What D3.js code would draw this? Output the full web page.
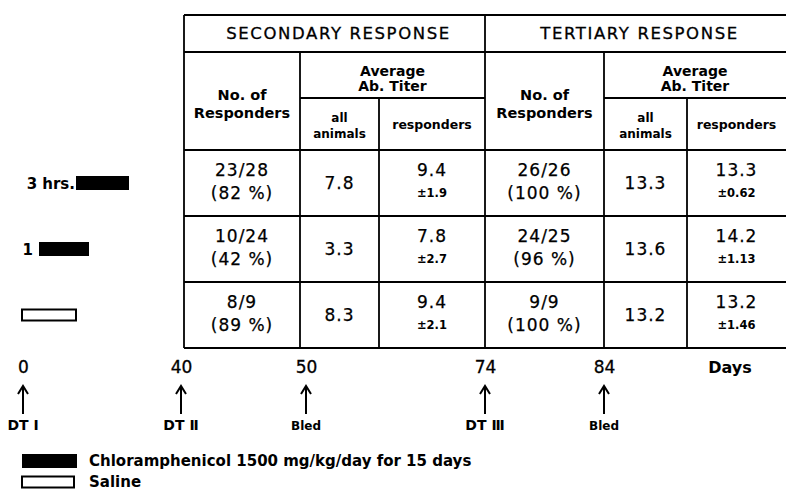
<!DOCTYPE html>
<html>
<head>
<meta charset="utf-8">
<script src="https://cdn.jsdelivr.net/npm/d3@7"></script>
<style>
  body { margin: 0; background: #fff; }
  svg { display: block; font-family: "DejaVu Sans", sans-serif; }
</style>
</head>
<body>
<svg id="chart" width="786" height="497"></svg>
<script>
// DATA
// treatment groups (rows of the table)
var groups = ["3 hrs.", "1", "saline"];
var groupLabels = ["3 hrs.", "1", ""];
var groupFilled = [true, true, false];

// secondary response
var secResponders = [23, 10, 8],
    secTotal = [28, 24, 9],
    secPct = [82, 42, 89],
    secAll = ["7.8", "3.3", "8.3"],
    secResp = ["9.4", "7.8", "9.4"],
    secSd = ["1.9", "2.7", "2.1"];

// tertiary response
var terResponders = [26, 24, 9],
    terTotal = [26, 25, 9],
    terPct = [100, 96, 100],
    terAll = ["13.3", "13.6", "13.2"],
    terResp = ["13.3", "14.2", "13.2"],
    terSd = ["0.62", "1.13", "1.46"];

// time line
var days = [0, 40, 50, 74, 84];
var events = ["DT \u2160", "DT \u2161", "Bled", "DT \u2162", "Bled"];

// legend
var legendLabels = ["Chloramphenicol 1500 mg/kg/day for 15 days", "Saline"];

// LAYOUT
var colEdges = [184, 300, 379, 485, 604, 687, 786];
var dayPos = [23, 181, 306, 485, 604];
var barX = [[76, 129], [39, 89], [22, 76]];
var labelGap = [1, 6, 0];

var svg = d3.select("#chart");

var y = d3.scaleBand().domain(groups).range([150, 348]);
var cols = ["secN", "secAll", "secResp", "terN", "terAll", "terResp"];
var colX = d3.scaleOrdinal().domain(cols).range(colEdges.slice(0, 6));
function colW(c) { var i = cols.indexOf(c); return colEdges[i + 1] - colEdges[i]; }
function colC(c) { return colX(c) + colW(c) / 2; }

// table grid
var lines = svg.append("g")
    .attr("stroke", "#000")
    .attr("stroke-width", 1.8);

function hline(y0, x0, x1) { lines.append("line").attr("x1", x0).attr("x2", x1).attr("y1", y0).attr("y2", y0); }
function vline(x0, y0, y1) { lines.append("line").attr("x1", x0).attr("x2", x0).attr("y1", y0).attr("y2", y1); }

hline(15, colEdges[0], 786);
hline(52, colEdges[0], 786);
hline(98, colX("secAll"), colX("terN"));
hline(98, colX("terAll"), 786);
hline(150, colEdges[0], 786);
groups.forEach(function(g) { hline(y(g) + y.bandwidth(), colEdges[0], 786); });
vline(colX("secN"), 15, 348);
vline(colX("terN"), 15, 348);
vline(colX("secAll"), 52, 348);
vline(colX("terAll"), 52, 348);
vline(colX("secResp"), 98, 348);
vline(colX("terResp"), 98, 348);

// header text
var head = svg.append("g").attr("text-anchor", "middle").attr("fill", "#000");

[["SECONDARY RESPONSE", "secN", "secResp"], ["TERTIARY RESPONSE", "terN", "terResp"]].forEach(function(h) {
    var cx = (colX(h[1]) + colX(h[2]) + colW(h[2])) / 2;
    head.append("text").attr("x", cx + 4).attr("y", 39)
        .style("font-size", "16.5px").style("letter-spacing", "1.6px")
        .style("stroke", "#000").style("stroke-width", 0.3)
        .text(h[0]);
});

["sec", "ter"].forEach(function(p) {
    head.append("text").attr("x", colC(p + "N")).attr("y", 100)
        .style("font-size", "14.5px").style("font-weight", "bold").text("No. of");
    head.append("text").attr("x", colC(p + "N")).attr("y", 118)
        .style("font-size", "14.5px").style("font-weight", "bold").text("Responders");

    var ax = (colX(p + "All") + colX(p + "Resp") + colW(p + "Resp")) / 2;
    head.append("text").attr("x", ax).attr("y", 76)
        .style("font-size", "14px").style("font-weight", "bold").text("Average");
    head.append("text").attr("x", ax).attr("y", 91)
        .style("font-size", "14px").style("font-weight", "bold").text("Ab. Titer");

    head.append("text").attr("x", colC(p + "All")).attr("y", 122)
        .style("font-size", "12px").style("font-weight", "bold").text("all");
    head.append("text").attr("x", colC(p + "All")).attr("y", 138)
        .style("font-size", "12px").style("font-weight", "bold").text("animals");

    head.append("text").attr("x", colC(p + "Resp")).attr("y", 129)
        .style("font-size", "12.5px").style("font-weight", "bold")
        .text("responders");
});

// cell values
var cells = svg.append("g").attr("text-anchor", "middle").attr("fill", "#000")
    .style("stroke", "#000").style("stroke-width", 0.25);

groups.forEach(function(g, i) {
    var cy = y(g) + y.bandwidth() / 2;
    var sets = [
        ["secN", secResponders[i] + "/" + secTotal[i], "(" + secPct[i] + " %)", "secAll", secAll[i], "secResp", secResp[i], secSd[i]],
        ["terN", terResponders[i] + "/" + terTotal[i], "(" + terPct[i] + " %)", "terAll", terAll[i], "terResp", terResp[i], terSd[i]]
    ];
    sets.forEach(function(s) {
        cells.append("text").attr("x", colC(s[0])).attr("y", cy - 7)
            .style("font-size", "17px").style("letter-spacing", "1px").text(s[1]);
        cells.append("text").attr("x", colC(s[0])).attr("y", cy + 16)
            .style("font-size", "17px").style("letter-spacing", "1px").text(s[2]);
        cells.append("text").attr("x", colC(s[3])).attr("y", cy + 6)
            .style("font-size", "17px").style("letter-spacing", "1px").text(s[4]);
        cells.append("text").attr("x", colC(s[5])).attr("y", cy - 7)
            .style("font-size", "17px").style("letter-spacing", "1px").text(s[6]);
        cells.append("text").attr("x", colC(s[5])).attr("y", cy + 14)
            .style("font-size", "11.5px").style("font-weight", "bold").style("stroke-width", 0)
            .text("\u00b1" + s[7]);
    });
});

// treatment bars to the left of the rows
var rows = svg.append("g");
groups.forEach(function(g, i) {
    var cy = y(g) + y.bandwidth() / 2;
    var h = groupFilled[i] ? 14 : 11;
    rows.append("rect")
        .attr("x", barX[i][0]).attr("y", cy - h / 2)
        .attr("width", barX[i][1] - barX[i][0]).attr("height", h)
        .attr("fill", groupFilled[i] ? "#000" : "#fff")
        .attr("stroke", "#000").attr("stroke-width", groupFilled[i] ? 0 : 2);
    if (groupLabels[i]) {
        rows.append("text")
            .attr("x", barX[i][0] - labelGap[i]).attr("y", cy + 6)
            .attr("text-anchor", "end")
            .style("font-size", "15px").style("font-weight", "bold")
            .text(groupLabels[i]);
    }
});

// time line
var x = d3.scaleLinear().domain(days).range(dayPos);

var axis = svg.append("g")
    .attr("transform", "translate(0,360)")
    .call(d3.axisBottom(x).tickValues(days).tickSize(0).tickFormat(d3.format("d")));
axis.select(".domain").remove();
axis.selectAll("text")
    .attr("dy", 0).attr("y", 13)
    .attr("fill", "#000")
    .style("stroke", "#000").style("stroke-width", 0.3)
    .style("font-size", "17px")
    .style("font-family", "DejaVu Sans, sans-serif");

svg.append("text").attr("x", 730).attr("y", 373)
    .attr("text-anchor", "middle")
    .style("font-size", "16px").style("font-weight", "bold")
    .text("Days");

var ev = svg.append("g").selectAll("g")
    .data(days)
    .enter().append("g")
    .attr("transform", function(d) { return "translate(" + x(d) + ",0)"; });

ev.append("path")
    .attr("d", "M0,414V387M-5,394L0,386L5,394")
    .attr("fill", "none")
    .attr("stroke", "#000")
    .attr("stroke-width", 2);

ev.append("text")
    .attr("y", 430)
    .attr("text-anchor", "middle")
    .style("font-weight", "bold")
    .style("font-size", function(d, i) { return events[i] === "Bled" ? "12px" : "14px"; })
    .text(function(d, i) { return events[i]; });

// legend
var legend = svg.append("g");
legendLabels.forEach(function(l, i) {
    var ly = 461 + i * 21;
    var h = i === 0 ? 14 : 11;
    legend.append("rect")
        .attr("x", 22).attr("y", ly - h / 2)
        .attr("width", i === 0 ? 55 : 52).attr("height", h)
        .attr("fill", i === 0 ? "#000" : "#fff")
        .attr("stroke", "#000").attr("stroke-width", i === 0 ? 0 : 2);
    legend.append("text")
        .attr("x", 89).attr("y", ly + 5)
        .style("font-size", "15px").style("font-weight", "bold")
        .text(l);
});
</script>
</body>
</html>
